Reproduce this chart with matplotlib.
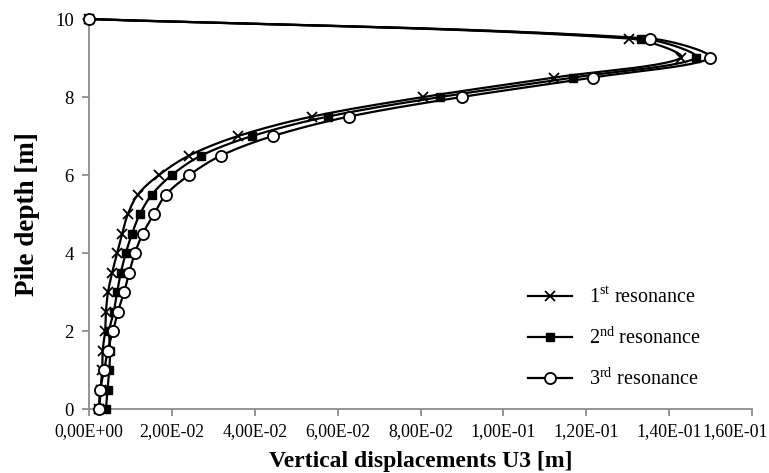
import numpy as np
import matplotlib
matplotlib.use("Agg")
import matplotlib.pyplot as plt
import matplotlib.transforms as mtransforms
from matplotlib.ticker import FuncFormatter, MultipleLocator

plt.rcParams['font.family'] = 'Liberation Serif'
plt.rcParams['mathtext.fontset'] = 'custom'
plt.rcParams['mathtext.rm'] = 'Liberation Serif'

# pile depth [m] and vertical displacement U3 [m] for each resonance
depth = [0, 0.5, 1, 1.5, 2, 2.5, 3, 3.5, 4, 4.5, 5, 5.5, 6, 6.5, 7, 7.5, 8, 8.5, 9, 9.5, 10]
u3_first = [0.0025, 0.0028, 0.0032, 0.0033, 0.0039, 0.0041, 0.0046, 0.0056, 0.0068, 0.0080,
            0.0094, 0.0118, 0.0169, 0.0242, 0.0360, 0.0539, 0.0807, 0.1123, 0.1428, 0.1304, 0.0]
u3_second = [0.0041, 0.0045, 0.0049, 0.0051, 0.0049, 0.0060, 0.0068, 0.0077, 0.0089, 0.0104,
             0.0123, 0.0152, 0.0200, 0.0271, 0.0394, 0.0577, 0.0848, 0.1169, 0.1464, 0.1333, 0.0]
u3_third = [0.0024, 0.0027, 0.0037, 0.0045, 0.0058, 0.0070, 0.0085, 0.0097, 0.0111, 0.0130,
            0.0157, 0.0186, 0.0242, 0.0319, 0.0444, 0.0628, 0.0899, 0.1215, 0.1498, 0.1353, 0.0]

labels = [r'1$^{\mathrm{st}}$ resonance', r'2$^{\mathrm{nd}}$ resonance', r'3$^{\mathrm{rd}}$ resonance']
x_ticks = [0, 0.02, 0.04, 0.06, 0.08, 0.10, 0.12, 0.14, 0.16]


def smooth(ax, xs, ys, n=24):
    # smoothed line through the points, built as cubic Bezier segments in
    # screen space with control arms scaled by the neighbouring segment lengths
    p = ax.transData.transform(np.column_stack([xs, ys]))
    m = len(p)
    tang = np.zeros_like(p)
    for i in range(m):
        a = p[max(i - 1, 0)]
        b = p[min(i + 1, m - 1)]
        tang[i] = b - a
    seglen = np.hypot(*np.diff(p, axis=0).T)
    out = []
    t = np.linspace(0, 1, n, endpoint=False)[:, None]
    for i in range(m - 1):
        p1, p2 = p[i], p[i + 1]
        d = seglen[i]
        dl = seglen[i - 1] if i > 0 else d
        dr = seglen[i + 1] if i + 1 < m - 1 else d
        c1 = p1 + tang[i] * d / (dl + d) / 3 if i > 0 else p1 + (p2 - p1) / 3
        c2 = p2 - tang[i + 1] * d / (d + dr) / 3 if i + 1 < m - 1 else p2 - (p2 - p1) / 3
        seg = ((1 - t) ** 3 * p1 + 3 * (1 - t) ** 2 * t * c1
               + 3 * (1 - t) * t ** 2 * c2 + t ** 3 * p2)
        out.append(seg)
    out.append(p[-1][None, :])
    out = ax.transData.inverted().transform(np.vstack(out))
    return out[:, 0], out[:, 1]


fig = plt.figure(figsize=(7.69, 4.73), dpi=100)
ax = fig.add_axes([0.1157, 0.1353, 0.8623, 0.8245])
ax.set_xlim(0, 0.16)
ax.set_ylim(0, 10)

styles = [
    dict(marker='x', ms=7, mew=1.3, mfc='black'),
    dict(marker='s', ms=6, mew=1.0, mfc='black'),
    dict(marker='o', ms=8, mew=1.3, mfc='white'),
]

for vals, lab, st in zip([u3_first, u3_second, u3_third], labels, styles):
    sx, sy = smooth(ax, vals, depth)
    ax.plot(sx, sy, color='black', lw=1.6, clip_on=False, zorder=2)
    ax.plot(vals, depth, ls='none', color='black', mec='black', clip_on=False, zorder=3, **st)
    # legend proxy
    ax.plot([], [], color='black', lw=1.6, mec='black', label=lab, **st)

ax.set_xlim(0, 0.16)
ax.set_ylim(0, 10)
ax.set_xticks(x_ticks)
ax.yaxis.set_major_locator(MultipleLocator(2))
ax.xaxis.set_major_formatter(FuncFormatter(lambda v, pos: f'{v:.2E}'.replace('.', ',')))

for s in ['top', 'right']:
    ax.spines[s].set_visible(False)
for s in ['left', 'bottom']:
    ax.spines[s].set_color('#8c8c8c')
    ax.spines[s].set_linewidth(1.3)
ax.tick_params(colors='#8c8c8c', labelcolor='black', length=5, width=1.3)
ax.tick_params(axis='x', pad=5, labelsize=12.8)
ax.tick_params(axis='y', pad=6, labelsize=13.5)

# keep the last x tick label inside the figure
last = ax.xaxis.get_major_ticks()[-1].label1
last.set_horizontalalignment('right')
last.set_transform(last.get_transform() + mtransforms.ScaledTranslation(0.16, 0, fig.dpi_scale_trans))

ax.set_xlabel('Vertical displacements U3 [m]', fontsize=17, fontweight='bold', labelpad=8)
ax.set_ylabel('Pile depth [m]', fontsize=19.5, fontweight='bold', labelpad=11)

ax.legend(loc='center left', bbox_to_anchor=(0.635, 0.18), frameon=False, fontsize=14.5,
          handlelength=2.2, labelspacing=0.95, handletextpad=0.8)

fig.savefig('out.png', dpi=100)
